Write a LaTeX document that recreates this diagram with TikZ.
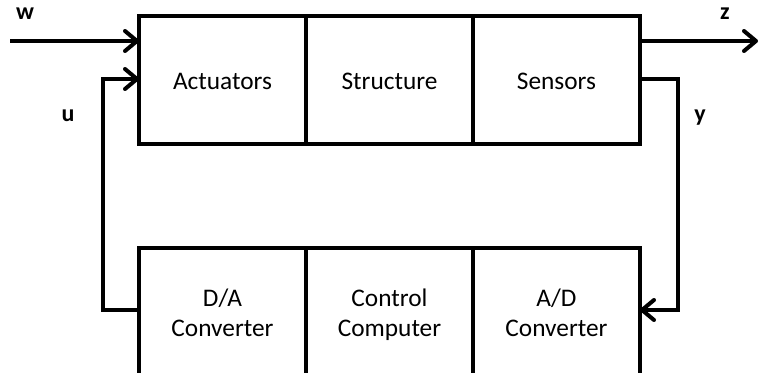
\documentclass[tikz,border=0pt]{standalone}
\usepackage{fontspec}
\setmainfont{Carlito}
\usetikzlibrary{arrows.meta}
% even line boxes, so every label sits at the same height
\newcommand{\lbox}{\rule[-3pt]{0pt}{21pt}}

\begin{document}
\begin{tikzpicture}[x=0.75pt, y=-0.75pt,
    block/.style={rectangle, draw, line width=3pt, minimum width=125.25pt, minimum height=96pt, inner sep=0pt, outer sep=0pt, align=center, font=\fontsize{19}{22.5}\selectfont},
    wire/.style={line width=3pt, -{Straight Barb[length=9pt, width=15pt, line width=3pt, round]}},
    sig/.style={font=\fontsize{18}{22}\selectfont\bfseries}]
    \clip (0, 0) rectangle (759, 373);

    % plant: actuators, structure, sensors
    \node[block] (act) at (222.5, 80) {\lbox Actuators};
    \node[block] (str) at (389.5, 80) {\lbox Structure};
    \node[block] (sen) at (556.5, 80) {\lbox Sensors};

    % controller: converters and computer
    \node[block] (da) at (222.5, 312) {\lbox D/A\\\lbox Converter};
    \node[block] (cc) at (389.5, 312) {\lbox Control\\\lbox Computer};
    \node[block] (ad) at (556.5, 312) {\lbox A/D\\\lbox Converter};

    \coordinate (win) at (10, 41);
    \coordinate (zout) at (758, 41);

    % Draw the signals between blocks
    \draw[wire] (win) -- (win -| act.west);
    \draw[wire] (zout -| sen.east) -- (zout);
    \draw[wire] ([yshift=1.5pt]da.west) -- ++(-36, 0) |- ([yshift=0.75pt]act.west);
    \draw[wire] ([yshift=0.75pt]sen.east) -- ++(38, 0) |- ([yshift=1.5pt]ad.east);

    \node[sig] (w) at (25, 14) {w};
    \node[sig] (z) at (725, 14) {z};
    \node[sig] (u) at (68, 116) {u};
    \node[sig] (y) at (700, 118) {y};
\end{tikzpicture}
\end{document}
